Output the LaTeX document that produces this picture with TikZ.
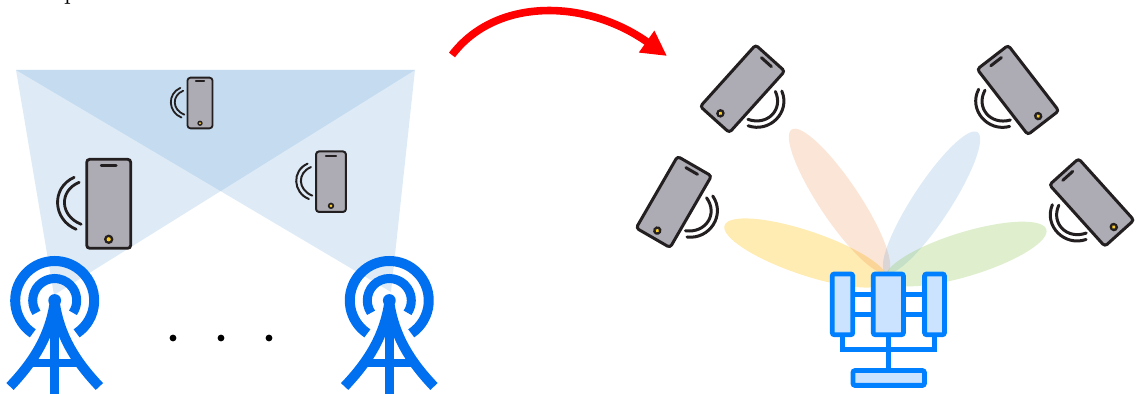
\documentclass[tikz,border=0pt]{standalone}
\usepackage{tikz}
\usetikzlibrary{arrows.meta}
\usepackage{xcolor}
\definecolor{cover}{RGB}{91,155,213}
\definecolor{towerblue}{RGB}{0,112,240}
\definecolor{arrayblue}{RGB}{0,128,255}
\definecolor{arrayfill}{RGB}{204,227,255}
\definecolor{phonegrey}{RGB}{173,171,179}
\definecolor{phoneedge}{RGB}{35,31,32}
\definecolor{phonelamp}{RGB}{250,205,40}
\definecolor{beamyellow}{RGB}{255,192,0}
\definecolor{beampeach}{RGB}{237,125,49}
\definecolor{beamblue}{RGB}{91,155,213}
\definecolor{beamgreen}{RGB}{120,190,50}
\tikzset{
  coverage/.style={fill=cover,opacity=0.2},
  towerline/.style={draw=towerblue,line cap=butt},
  arraybox/.style={draw=arrayblue,fill=arrayfill,line width=2.4pt,rounded corners=1pt},
  arrayline/.style={draw=arrayblue,line width=2.5pt},
  phone/.pic={
    \draw[phoneedge,fill=phonegrey,rounded corners=1.5pt] (-22,-44.5) rectangle (22,44.5);
    \draw[phoneedge,line cap=round] (-7.5,-38.5) -- (7.5,-38.5);
    \fill[phoneedge] (0,35.5) circle (4.7);
    \fill[phonelamp] (0,35.5) circle (2.1);
    \draw[phoneedge,line cap=round] (-34.5,-26.5) .. controls (-58,-16) and (-56,16) .. (-32.5,25.5);
    \draw[phoneedge,line cap=round] (-29.5,-21.5) .. controls (-50,-13) and (-49,12) .. (-27.5,20.5);
  },
  tower/.pic={
    \draw[towerline,line width=5pt] (123.7:39.5) arc[start angle=123.7,end angle=416.3,radius=39.5];
    \draw[towerline,line width=4.5pt] (146:22) arc[start angle=146,end angle=394,radius=22];
    \fill[towerblue] (0,0) circle (6.4);
    \draw[towerline,line width=4.6pt] (0,0) -- (0,94);
    \draw[towerline,line width=5pt] (0,2) .. controls (-5,35) and (-20,60) .. (-44.7,86);
    \draw[towerline,line width=5pt] (0,2) .. controls (5,35) and (20,60) .. (44.7,86);
    \draw[towerline,line width=3.8pt] (-24,62.5) -- (24,62.5);
  },
}
\begin{document}
\begin{tikzpicture}[x=0.5pt,y=-0.5pt]
\useasboundingbox (0,0) rectangle (1140,394);
% Cut off line of text at the top
\node[anchor=base,font=\fontsize{12.5}{15}\selectfont] (toptext) at (71,0) {p};

% Coverage of the two towers
\fill[coverage] (16,70) -- (415,70) -- (54,295) -- cycle;
\fill[coverage] (16,70) -- (415,70) -- (391,292) -- cycle;

% Phones on the left
\pic[line width=1.4pt] at (108.7,203.8) {phone};
\pic[line width=0.9pt,scale=0.57] at (200,103) {phone};
\pic[line width=1pt,scale=0.68] at (331,181.7) {phone};

% Towers
\pic at (54.7,300.5) {tower};
\pic at (389.3,300.5) {tower};

% Dots between the towers
\fill (173,338) circle (3.4);
\fill (221,338) circle (3.4);
\fill (269,338) circle (3.4);

% Red arrow
\coordinate (arcstart) at (452,55);
\coordinate (arcend) at (667,56);
\draw[red,line width=3.8pt,-{Triangle[length=12.5pt,width=12.5pt]}] (arcstart) .. controls (495,-2) and (585,-2) .. (arcend);

% Beams of the array
\fill[beamyellow,opacity=0.3,shift={(806,253)},rotate=-18.7] (0,0) ellipse [x radius=86,y radius=22];
\fill[beampeach,opacity=0.2,shift={(839.5,201)},rotate=-56.2] (0,0) ellipse [x radius=86,y radius=20];
\fill[beamblue,opacity=0.2,shift={(931.5,202.5)},rotate=56.8] (0,0) ellipse [x radius=84,y radius=19];
\fill[beamgreen,opacity=0.24,shift={(966,254)},rotate=17] (0,0) ellipse [x radius=84,y radius=22];

% Phones on the right
\pic[line width=1.5pt,rotate=-42,xscale=-0.89,yscale=0.93] at (742.5,88.8) {phone};
\pic[line width=1.5pt,rotate=-30,xscale=-0.89,yscale=0.93] at (673.8,202) {phone};
\pic[line width=1.5pt,rotate=37.7,xscale=0.89,yscale=0.93] at (1018,90) {phone};
\pic[line width=1.5pt,rotate=42,xscale=0.89,yscale=0.93] at (1091.7,202.5) {phone};

% Array
\draw[arrayline] (853,294.3) -- (871,294.3);
\draw[arrayline] (853,314.3) -- (871,314.3);
\draw[arrayline] (905,294.3) -- (923,294.3);
\draw[arrayline] (905,314.3) -- (923,314.3);
\draw[arrayline] (842.7,337) |- (934.3,349.3) -- (934.3,337);
\draw[arrayline] (888.3,337) -- (888.3,368);
\draw[arraybox] (832.3,274) rectangle (852.7,334.7);
\draw[arraybox] (873.3,274) rectangle (903.4,334.7);
\draw[arraybox] (924.6,274) rectangle (944.4,334.7);
\draw[arraybox] (853,370.6) rectangle (924.4,385.4);
\end{tikzpicture}
\end{document}
